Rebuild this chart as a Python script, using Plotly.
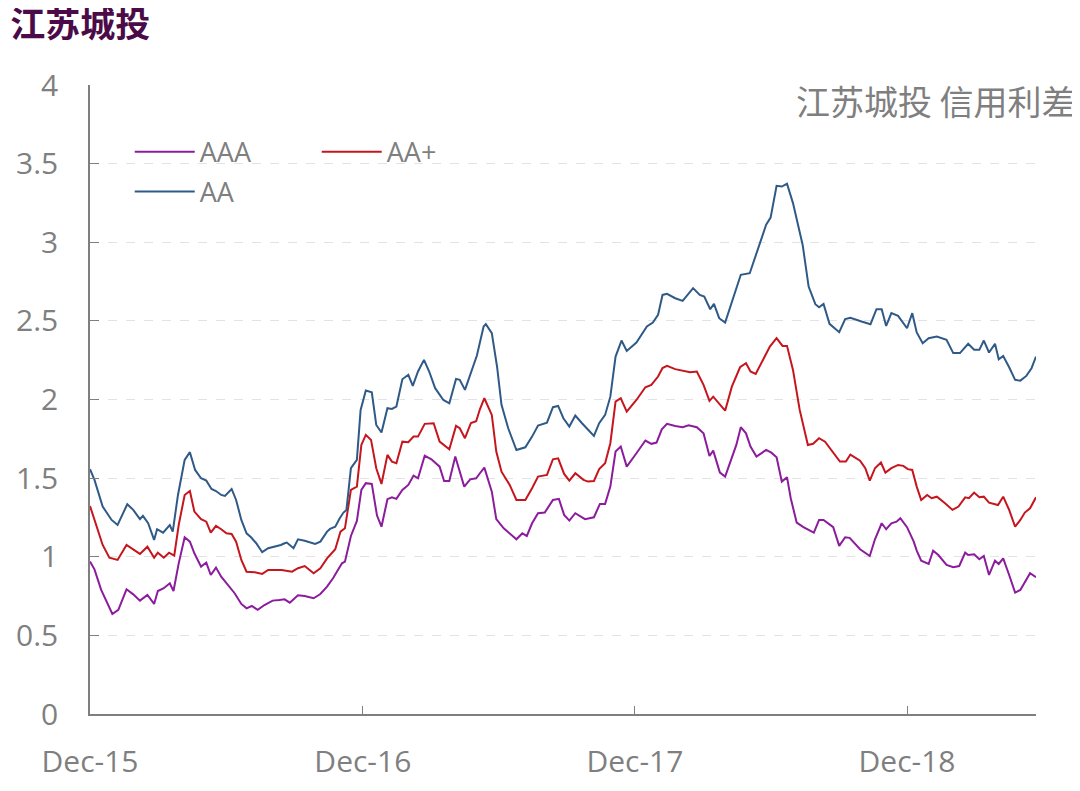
import pandas as pd
import plotly.graph_objects as go

# day offsets from 2015-12-01 and spread values (%)
aaa_days = [0, 6, 15, 23, 30, 38, 49, 58, 67, 77, 86, 91, 99, 107, 112, 119, 127, 134, 140, 149,
            156, 162, 169, 176, 185, 194, 203, 210, 217, 225, 234, 245, 254, 261, 268, 279, 288, 300, 309, 318,
            326, 338, 342, 350, 358, 364, 370, 378, 385, 391, 399, 405, 411, 419, 427, 434, 440, 449, 458, 469,
            475, 482, 490, 502, 510, 518, 523, 529, 539, 545, 555, 563, 572, 580, 586, 593, 601, 610, 621, 629,
            636, 643, 651, 664, 676, 684, 691, 698, 705, 712, 720, 733, 745, 753, 760, 767, 774, 785, 795, 803,
            814, 823, 831, 836, 845, 852, 861, 867, 873, 880, 886, 894, 907, 914, 921, 928, 935, 940, 948, 957,
            971, 978, 984, 997, 1005, 1013, 1019, 1033, 1046, 1053, 1062, 1068, 1075, 1082, 1087, 1096, 1105, 1109, 1115, 1125,
            1131, 1138, 1149, 1158, 1166, 1174, 1178, 1186, 1193, 1199, 1206, 1214, 1219, 1225, 1233, 1241, 1248, 1254, 1261, 1269]
aaa = [0.969, 0.920, 0.789, 0.704, 0.636, 0.662, 0.793, 0.761, 0.721, 0.757, 0.700, 0.782, 0.800, 0.831, 0.782, 0.958, 1.124, 1.096, 1.022, 0.937,
       0.963, 0.884, 0.931, 0.873, 0.821, 0.768, 0.700, 0.672, 0.687, 0.662, 0.693, 0.721, 0.725, 0.729, 0.708, 0.755, 0.751, 0.736, 0.763, 0.810,
       0.863, 0.958, 0.969, 1.132, 1.228, 1.425, 1.468, 1.463, 1.262, 1.191, 1.366, 1.378, 1.368, 1.425, 1.457, 1.516, 1.499, 1.643, 1.620, 1.573,
       1.482, 1.482, 1.637, 1.446, 1.492, 1.499, 1.531, 1.567, 1.414, 1.239, 1.181, 1.149, 1.111, 1.149, 1.132, 1.213, 1.277, 1.281, 1.361, 1.368,
       1.266, 1.230, 1.277, 1.239, 1.251, 1.336, 1.336, 1.446, 1.669, 1.701, 1.573, 1.658, 1.739, 1.718, 1.726, 1.810, 1.845, 1.832, 1.824, 1.836,
       1.824, 1.785, 1.641, 1.675, 1.535, 1.510, 1.637, 1.711, 1.824, 1.785, 1.701, 1.637, 1.679, 1.662, 1.633, 1.478, 1.506, 1.372, 1.217, 1.188,
       1.153, 1.234, 1.234, 1.188, 1.069, 1.124, 1.120, 1.048, 1.005, 1.111, 1.213, 1.175, 1.213, 1.223, 1.245, 1.188, 1.096, 1.039, 0.975, 0.954,
       1.039, 1.011, 0.948, 0.933, 0.941, 1.026, 1.011, 1.016, 0.984, 1.005, 0.884, 0.975, 0.954, 0.990, 0.884, 0.772, 0.789, 0.842, 0.895, 0.870]

aap_days = [0, 8, 17, 26, 37, 49, 58, 67, 77, 86, 91, 99, 106, 113, 119, 127, 134, 140, 149, 156,
            162, 169, 176, 183, 190, 196, 203, 210, 221, 231, 239, 257, 271, 279, 288, 300, 309, 318, 329, 336,
            342, 350, 358, 364, 370, 377, 384, 391, 399, 405, 411, 419, 427, 434, 440, 449, 461, 469, 482, 491,
            496, 503, 511, 518, 523, 529, 539, 545, 552, 563, 572, 584, 593, 601, 613, 621, 628, 636, 643, 651,
            662, 668, 676, 683, 691, 698, 705, 712, 720, 733, 745, 753, 762, 768, 774, 785, 805, 814, 823, 831,
            836, 852, 861, 872, 880, 886, 893, 903, 912, 921, 929, 935, 943, 952, 963, 970, 978, 986, 995, 1006,
            1014, 1020, 1033, 1040, 1046, 1053, 1061, 1067, 1075, 1084, 1091, 1097, 1103, 1109, 1115, 1123, 1129, 1136, 1147, 1157,
            1165, 1174, 1179, 1186, 1193, 1199, 1206, 1218, 1225, 1233, 1241, 1248, 1254, 1261, 1269]
aap = [1.323, 1.213, 1.075, 0.994, 0.980, 1.075, 1.048, 1.018, 1.064, 0.994, 1.026, 0.994, 1.026, 1.007, 1.202, 1.393, 1.418, 1.287, 1.239, 1.223,
       1.153, 1.196, 1.175, 1.149, 1.145, 1.096, 0.980, 0.905, 0.901, 0.891, 0.916, 0.916, 0.905, 0.927, 0.941, 0.895, 0.927, 0.990, 1.048, 1.160,
       1.181, 1.425, 1.446, 1.711, 1.775, 1.743, 1.563, 1.463, 1.648, 1.605, 1.595, 1.732, 1.728, 1.764, 1.764, 1.845, 1.849, 1.732, 1.684, 1.832,
       1.817, 1.754, 1.851, 1.862, 1.938, 2.008, 1.902, 1.669, 1.541, 1.457, 1.361, 1.361, 1.436, 1.510, 1.520, 1.620, 1.626, 1.527, 1.484, 1.531,
       1.489, 1.478, 1.482, 1.557, 1.595, 1.722, 1.987, 2.008, 1.923, 1.997, 2.078, 2.093, 2.146, 2.200, 2.214, 2.193, 2.174, 2.178, 2.093, 1.991,
       2.018, 1.929, 2.082, 2.205, 2.231, 2.178, 2.163, 2.256, 2.337, 2.390, 2.341, 2.341, 2.188, 1.934, 1.711, 1.718, 1.754, 1.732, 1.673, 1.605,
       1.605, 1.650, 1.611, 1.563, 1.484, 1.563, 1.599, 1.535, 1.563, 1.584, 1.578, 1.557, 1.552, 1.446, 1.361, 1.393, 1.372, 1.382, 1.340, 1.298,
       1.319, 1.378, 1.372, 1.408, 1.378, 1.382, 1.344, 1.329, 1.382, 1.298, 1.191, 1.234, 1.281, 1.308, 1.378]

aa_days = [0, 6, 17, 29, 37, 50, 58, 67, 71, 78, 86, 90, 98, 107, 111, 118, 127, 134, 141, 149,
           156, 163, 169, 176, 181, 190, 196, 203, 210, 216, 223, 231, 239, 248, 256, 261, 264, 273, 279, 288,
           302, 309, 318, 322, 329, 335, 340, 344, 350, 358, 363, 370, 378, 384, 391, 399, 405, 411, 419, 427,
           433, 440, 448, 455, 463, 474, 482, 491, 496, 503, 512, 519, 528, 531, 539, 546, 552, 561, 572, 584,
           593, 601, 613, 621, 628, 635, 643, 651, 660, 668, 676, 683, 691, 698, 705, 713, 720, 733, 747, 755,
           762, 768, 774, 785, 795, 809, 818, 824, 832, 837, 844, 852, 863, 873, 885, 896, 907, 913, 921, 928,
           935, 943, 956, 964, 973, 978, 984, 992, 1005, 1013, 1020, 1035, 1047, 1055, 1062, 1068, 1075, 1084, 1096, 1103,
           1109, 1117, 1125, 1136, 1149, 1158, 1167, 1178, 1186, 1193, 1199, 1206, 1214, 1219, 1225, 1233, 1241, 1248, 1256, 1263, 1269]
aa = [1.557, 1.489, 1.319, 1.234, 1.202, 1.334, 1.298, 1.239, 1.260, 1.213, 1.107, 1.175, 1.153, 1.202, 1.160, 1.393, 1.616, 1.665, 1.552, 1.499,
      1.484, 1.431, 1.418, 1.393, 1.387, 1.431, 1.361, 1.234, 1.149, 1.124, 1.086, 1.029, 1.054, 1.064, 1.075, 1.086, 1.090, 1.054, 1.111, 1.102,
      1.081, 1.096, 1.160, 1.177, 1.191, 1.245, 1.281, 1.298, 1.563, 1.616, 1.934, 2.057, 2.046, 1.838, 1.790, 1.945, 1.940, 1.955, 2.129, 2.157,
      2.087, 2.178, 2.252, 2.178, 2.072, 1.997, 1.976, 2.131, 2.125, 2.061, 2.178, 2.280, 2.464, 2.479, 2.422, 2.210, 1.966, 1.817, 1.679, 1.696,
      1.764, 1.834, 1.853, 1.951, 1.959, 1.881, 1.828, 1.898, 1.849, 1.811, 1.768, 1.849, 1.902, 2.018, 2.273, 2.375, 2.309, 2.362, 2.464, 2.489,
      2.538, 2.665, 2.672, 2.644, 2.627, 2.708, 2.665, 2.655, 2.574, 2.608, 2.517, 2.489, 2.644, 2.793, 2.803, 2.951, 3.111, 3.157, 3.359, 3.354,
      3.372, 3.249, 2.983, 2.718, 2.606, 2.587, 2.608, 2.481, 2.428, 2.511, 2.520, 2.496, 2.479, 2.574, 2.574, 2.468, 2.549, 2.532, 2.453, 2.549,
      2.426, 2.358, 2.390, 2.400, 2.379, 2.295, 2.295, 2.354, 2.316, 2.316, 2.375, 2.299, 2.354, 2.256, 2.277, 2.205, 2.125, 2.120, 2.150, 2.199, 2.273]

start = pd.Timestamp("2015-12-01")


def to_dates(days):
    return start + pd.to_timedelta(days, unit="D")


grey = "#7f7f7f"
fig = go.Figure()
fig.add_trace(go.Scatter(x=to_dates(aaa_days), y=aaa, name="AAA", mode="lines",
                         line=dict(color="#8B1C9C", width=2), legend="legend"))
fig.add_trace(go.Scatter(x=to_dates(aap_days), y=aap, name="AA+", mode="lines",
                         line=dict(color="#C5161D", width=2), legend="legend"))
fig.add_trace(go.Scatter(x=to_dates(aa_days), y=aa, name="AA", mode="lines",
                         line=dict(color="#2F5A87", width=2), legend="legend2"))

legend_style = dict(orientation="h", xanchor="left", yanchor="middle",
                    font=dict(family="Open Sans", size=27, color=grey),
                    bgcolor="rgba(0,0,0,0)", itemwidth=60, entrywidth=112, tracegroupgap=0)

# page body has an 8px margin, so the figure is a bit smaller than the window
fig.update_layout(
    width=1072, height=783,
    margin=dict(l=82, r=44, t=77, b=77, autoexpand=False),
    plot_bgcolor="white", paper_bgcolor="white",
    font=dict(family="Open Sans", color=grey),
    title=dict(text="<b>江苏城投</b>", xref="container", yref="container",
               x=0.002, y=0.978, xanchor="left", yanchor="middle",
               font=dict(family="Noto Sans CJK SC", size=35, color="#4B0B48")),
    legend=dict(x=0.042, y=0.893, **legend_style),
    legend2=dict(x=0.042, y=0.83, **legend_style),
    xaxis=dict(
        type="date", automargin=False,
        range=[start, to_dates([1269])[0]],
        tick0="2015-12-01", dtick="M12", tickformat="%b-%y",
        ticks="inside", ticklen=8, tickcolor=grey,
        showline=True, linecolor=grey, linewidth=1.5,
        showgrid=False, zeroline=False,
        tickfont=dict(family="Open Sans", size=30, color=grey),
        ticklabelstandoff=20,
    ),
    yaxis=dict(
        range=[0, 4], dtick=0.5, automargin=False,
        ticks="inside", ticklen=9, tickcolor=grey,
        showline=True, linecolor=grey, linewidth=1.5,
        showgrid=True, gridcolor="#e3e3e3", griddash="dash", gridwidth=1,
        zeroline=False,
        tickfont=dict(family="Open Sans", size=30, color=grey),
        ticklabelstandoff=24,
    ),
    annotations=[
        dict(text="江苏城投 信用利差", xref="paper", yref="paper", x=1.044, y=0.976,
             xanchor="right", yanchor="middle", showarrow=False,
             font=dict(family="Noto Sans CJK SC", size=34, color=grey)),
    ],
)

fig.write_html("out.html")
